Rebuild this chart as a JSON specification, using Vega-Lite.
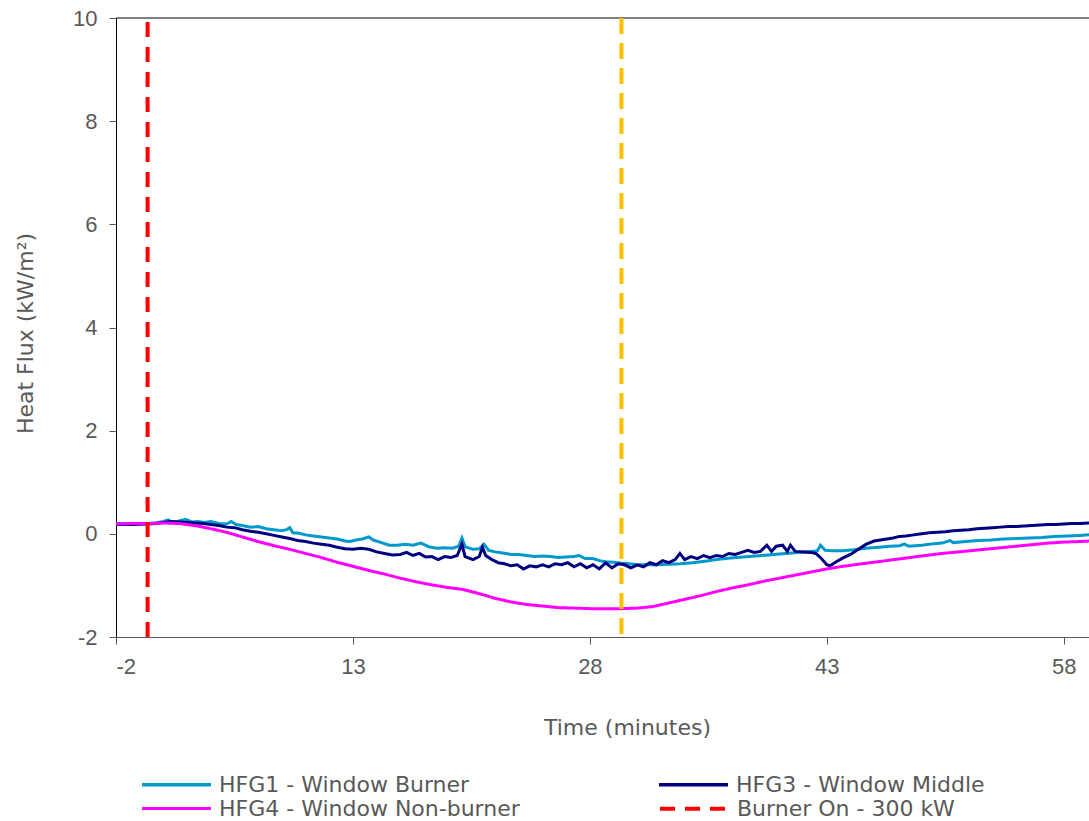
{
  "$schema": "https://vega.github.io/schema/vega-lite/v6.json",
  "autosize": {"type": "none"},
  "width": 973,
  "height": 619,
  "padding": {"left": 116, "top": 18, "right": 0, "bottom": 184},
  "background": "white",
  "config": {
    "view": {"stroke": null},
    "axis": {
      "grid": false,
      "labelFont": "Liberation Sans",
      "labelFontSize": 22,
      "labelColor": "#595959",
      "labelExpr": "replace(datum.label, '\u2212', '-')",
      "titleFont": "DejaVu Sans",
      "titleFontSize": 22,
      "titleFontWeight": "normal",
      "titleColor": "#595959",
      "tickColor": "#595959",
      "tickSize": 7,
      "labelPadding": 12,
      "domainColor": "#000000"
    },
    "legend": {
      "orient": "none",
      "columns": 2,
      "symbolType": "stroke",
      "symbolSize": 4761,
      "symbolStrokeWidth": 3.5,
      "labelFont": "DejaVu Sans",
      "labelFontSize": 22,
      "labelColor": "#595959",
      "labelOffset": 6,
      "labelLimit": 500
    }
  },
  "layer": [
    {
      "data": {"values": [{"y": 10}]},
      "mark": {"type": "rule", "color": "#000000", "strokeWidth": 1},
      "encoding": {"y": {"field": "y", "type": "quantitative"}}
    },
    {
      "data": {
        "values": [
          {"t": -2, "v": 0.19, "s": "HFG1 - Window Burner"},
          {"t": -1.5, "v": 0.2, "s": "HFG1 - Window Burner"},
          {"t": -1, "v": 0.19, "s": "HFG1 - Window Burner"},
          {"t": -0.5, "v": 0.2, "s": "HFG1 - Window Burner"},
          {"t": 0, "v": 0.2, "s": "HFG1 - Window Burner"},
          {"t": 0.5, "v": 0.21, "s": "HFG1 - Window Burner"},
          {"t": 1, "v": 0.24, "s": "HFG1 - Window Burner"},
          {"t": 1.3, "v": 0.27, "s": "HFG1 - Window Burner"},
          {"t": 1.6, "v": 0.22, "s": "HFG1 - Window Burner"},
          {"t": 2, "v": 0.25, "s": "HFG1 - Window Burner"},
          {"t": 2.4, "v": 0.28, "s": "HFG1 - Window Burner"},
          {"t": 2.8, "v": 0.23, "s": "HFG1 - Window Burner"},
          {"t": 3.2, "v": 0.24, "s": "HFG1 - Window Burner"},
          {"t": 3.6, "v": 0.22, "s": "HFG1 - Window Burner"},
          {"t": 4, "v": 0.24, "s": "HFG1 - Window Burner"},
          {"t": 4.5, "v": 0.2, "s": "HFG1 - Window Burner"},
          {"t": 5, "v": 0.19, "s": "HFG1 - Window Burner"},
          {"t": 5.3, "v": 0.24, "s": "HFG1 - Window Burner"},
          {"t": 5.6, "v": 0.18, "s": "HFG1 - Window Burner"},
          {"t": 6, "v": 0.16, "s": "HFG1 - Window Burner"},
          {"t": 6.5, "v": 0.13, "s": "HFG1 - Window Burner"},
          {"t": 7, "v": 0.14, "s": "HFG1 - Window Burner"},
          {"t": 7.5, "v": 0.1, "s": "HFG1 - Window Burner"},
          {"t": 8, "v": 0.08, "s": "HFG1 - Window Burner"},
          {"t": 8.5, "v": 0.06, "s": "HFG1 - Window Burner"},
          {"t": 8.8, "v": 0.08, "s": "HFG1 - Window Burner"},
          {"t": 9, "v": 0.12, "s": "HFG1 - Window Burner"},
          {"t": 9.2, "v": 0.02, "s": "HFG1 - Window Burner"},
          {"t": 9.6, "v": 0.01, "s": "HFG1 - Window Burner"},
          {"t": 10, "v": -0.02, "s": "HFG1 - Window Burner"},
          {"t": 10.5, "v": -0.04, "s": "HFG1 - Window Burner"},
          {"t": 11, "v": -0.06, "s": "HFG1 - Window Burner"},
          {"t": 11.5, "v": -0.08, "s": "HFG1 - Window Burner"},
          {"t": 12, "v": -0.1, "s": "HFG1 - Window Burner"},
          {"t": 12.5, "v": -0.14, "s": "HFG1 - Window Burner"},
          {"t": 12.8, "v": -0.15, "s": "HFG1 - Window Burner"},
          {"t": 13.2, "v": -0.12, "s": "HFG1 - Window Burner"},
          {"t": 13.6, "v": -0.1, "s": "HFG1 - Window Burner"},
          {"t": 14, "v": -0.06, "s": "HFG1 - Window Burner"},
          {"t": 14.3, "v": -0.12, "s": "HFG1 - Window Burner"},
          {"t": 14.8, "v": -0.17, "s": "HFG1 - Window Burner"},
          {"t": 15.3, "v": -0.22, "s": "HFG1 - Window Burner"},
          {"t": 15.8, "v": -0.22, "s": "HFG1 - Window Burner"},
          {"t": 16.3, "v": -0.2, "s": "HFG1 - Window Burner"},
          {"t": 16.8, "v": -0.22, "s": "HFG1 - Window Burner"},
          {"t": 17.3, "v": -0.18, "s": "HFG1 - Window Burner"},
          {"t": 17.8, "v": -0.25, "s": "HFG1 - Window Burner"},
          {"t": 18.3, "v": -0.28, "s": "HFG1 - Window Burner"},
          {"t": 18.8, "v": -0.27, "s": "HFG1 - Window Burner"},
          {"t": 19.3, "v": -0.28, "s": "HFG1 - Window Burner"},
          {"t": 19.7, "v": -0.24, "s": "HFG1 - Window Burner"},
          {"t": 19.9, "v": -0.08, "s": "HFG1 - Window Burner"},
          {"t": 20.1, "v": -0.25, "s": "HFG1 - Window Burner"},
          {"t": 20.6, "v": -0.3, "s": "HFG1 - Window Burner"},
          {"t": 21, "v": -0.29, "s": "HFG1 - Window Burner"},
          {"t": 21.3, "v": -0.2, "s": "HFG1 - Window Burner"},
          {"t": 21.6, "v": -0.32, "s": "HFG1 - Window Burner"},
          {"t": 22, "v": -0.35, "s": "HFG1 - Window Burner"},
          {"t": 22.5, "v": -0.37, "s": "HFG1 - Window Burner"},
          {"t": 23, "v": -0.4, "s": "HFG1 - Window Burner"},
          {"t": 23.5, "v": -0.4, "s": "HFG1 - Window Burner"},
          {"t": 24, "v": -0.42, "s": "HFG1 - Window Burner"},
          {"t": 24.5, "v": -0.44, "s": "HFG1 - Window Burner"},
          {"t": 25, "v": -0.43, "s": "HFG1 - Window Burner"},
          {"t": 25.5, "v": -0.44, "s": "HFG1 - Window Burner"},
          {"t": 26, "v": -0.46, "s": "HFG1 - Window Burner"},
          {"t": 26.5, "v": -0.45, "s": "HFG1 - Window Burner"},
          {"t": 27, "v": -0.44, "s": "HFG1 - Window Burner"},
          {"t": 27.3, "v": -0.42, "s": "HFG1 - Window Burner"},
          {"t": 27.7, "v": -0.48, "s": "HFG1 - Window Burner"},
          {"t": 28.2, "v": -0.48, "s": "HFG1 - Window Burner"},
          {"t": 28.6, "v": -0.52, "s": "HFG1 - Window Burner"},
          {"t": 29, "v": -0.54, "s": "HFG1 - Window Burner"},
          {"t": 29.5, "v": -0.55, "s": "HFG1 - Window Burner"},
          {"t": 30, "v": -0.57, "s": "HFG1 - Window Burner"},
          {"t": 30.5, "v": -0.58, "s": "HFG1 - Window Burner"},
          {"t": 31, "v": -0.6, "s": "HFG1 - Window Burner"},
          {"t": 31.6, "v": -0.6, "s": "HFG1 - Window Burner"},
          {"t": 32.3, "v": -0.6, "s": "HFG1 - Window Burner"},
          {"t": 33, "v": -0.59, "s": "HFG1 - Window Burner"},
          {"t": 33.7, "v": -0.58, "s": "HFG1 - Window Burner"},
          {"t": 34.5, "v": -0.56, "s": "HFG1 - Window Burner"},
          {"t": 35.3, "v": -0.53, "s": "HFG1 - Window Burner"},
          {"t": 36, "v": -0.5, "s": "HFG1 - Window Burner"},
          {"t": 36.9, "v": -0.47, "s": "HFG1 - Window Burner"},
          {"t": 37.7, "v": -0.45, "s": "HFG1 - Window Burner"},
          {"t": 38.5, "v": -0.43, "s": "HFG1 - Window Burner"},
          {"t": 39.3, "v": -0.41, "s": "HFG1 - Window Burner"},
          {"t": 40, "v": -0.39, "s": "HFG1 - Window Burner"},
          {"t": 40.8, "v": -0.37, "s": "HFG1 - Window Burner"},
          {"t": 41.5, "v": -0.35, "s": "HFG1 - Window Burner"},
          {"t": 42.1, "v": -0.34, "s": "HFG1 - Window Burner"},
          {"t": 42.4, "v": -0.33, "s": "HFG1 - Window Burner"},
          {"t": 42.6, "v": -0.22, "s": "HFG1 - Window Burner"},
          {"t": 42.9, "v": -0.32, "s": "HFG1 - Window Burner"},
          {"t": 43.3, "v": -0.33, "s": "HFG1 - Window Burner"},
          {"t": 44, "v": -0.33, "s": "HFG1 - Window Burner"},
          {"t": 44.7, "v": -0.31, "s": "HFG1 - Window Burner"},
          {"t": 45.5, "v": -0.28, "s": "HFG1 - Window Burner"},
          {"t": 46.3, "v": -0.26, "s": "HFG1 - Window Burner"},
          {"t": 47, "v": -0.24, "s": "HFG1 - Window Burner"},
          {"t": 47.6, "v": -0.23, "s": "HFG1 - Window Burner"},
          {"t": 47.9, "v": -0.2, "s": "HFG1 - Window Burner"},
          {"t": 48.2, "v": -0.24, "s": "HFG1 - Window Burner"},
          {"t": 49, "v": -0.22, "s": "HFG1 - Window Burner"},
          {"t": 49.8, "v": -0.19, "s": "HFG1 - Window Burner"},
          {"t": 50.3, "v": -0.18, "s": "HFG1 - Window Burner"},
          {"t": 50.8, "v": -0.13, "s": "HFG1 - Window Burner"},
          {"t": 51, "v": -0.17, "s": "HFG1 - Window Burner"},
          {"t": 51.8, "v": -0.15, "s": "HFG1 - Window Burner"},
          {"t": 52.6, "v": -0.13, "s": "HFG1 - Window Burner"},
          {"t": 53.4, "v": -0.12, "s": "HFG1 - Window Burner"},
          {"t": 54.2, "v": -0.1, "s": "HFG1 - Window Burner"},
          {"t": 55, "v": -0.09, "s": "HFG1 - Window Burner"},
          {"t": 55.8, "v": -0.08, "s": "HFG1 - Window Burner"},
          {"t": 56.6, "v": -0.07, "s": "HFG1 - Window Burner"},
          {"t": 57.4, "v": -0.05, "s": "HFG1 - Window Burner"},
          {"t": 58.2, "v": -0.04, "s": "HFG1 - Window Burner"},
          {"t": 59, "v": -0.03, "s": "HFG1 - Window Burner"},
          {"t": 59.6, "v": -0.02, "s": "HFG1 - Window Burner"},

          {"t": -2, "v": 0.18, "s": "HFG3 - Window Middle"},
          {"t": -1, "v": 0.18, "s": "HFG3 - Window Middle"},
          {"t": 0, "v": 0.19, "s": "HFG3 - Window Middle"},
          {"t": 0.5, "v": 0.2, "s": "HFG3 - Window Middle"},
          {"t": 1, "v": 0.22, "s": "HFG3 - Window Middle"},
          {"t": 1.5, "v": 0.24, "s": "HFG3 - Window Middle"},
          {"t": 2, "v": 0.23, "s": "HFG3 - Window Middle"},
          {"t": 2.5, "v": 0.22, "s": "HFG3 - Window Middle"},
          {"t": 3, "v": 0.21, "s": "HFG3 - Window Middle"},
          {"t": 3.5, "v": 0.2, "s": "HFG3 - Window Middle"},
          {"t": 4, "v": 0.18, "s": "HFG3 - Window Middle"},
          {"t": 4.5, "v": 0.16, "s": "HFG3 - Window Middle"},
          {"t": 5, "v": 0.13, "s": "HFG3 - Window Middle"},
          {"t": 5.5, "v": 0.12, "s": "HFG3 - Window Middle"},
          {"t": 6, "v": 0.08, "s": "HFG3 - Window Middle"},
          {"t": 6.5, "v": 0.05, "s": "HFG3 - Window Middle"},
          {"t": 7, "v": 0.03, "s": "HFG3 - Window Middle"},
          {"t": 7.5, "v": 0.0, "s": "HFG3 - Window Middle"},
          {"t": 8, "v": -0.03, "s": "HFG3 - Window Middle"},
          {"t": 8.5, "v": -0.06, "s": "HFG3 - Window Middle"},
          {"t": 9, "v": -0.09, "s": "HFG3 - Window Middle"},
          {"t": 9.5, "v": -0.13, "s": "HFG3 - Window Middle"},
          {"t": 10, "v": -0.15, "s": "HFG3 - Window Middle"},
          {"t": 10.5, "v": -0.18, "s": "HFG3 - Window Middle"},
          {"t": 11, "v": -0.2, "s": "HFG3 - Window Middle"},
          {"t": 11.5, "v": -0.22, "s": "HFG3 - Window Middle"},
          {"t": 12, "v": -0.26, "s": "HFG3 - Window Middle"},
          {"t": 12.5, "v": -0.29, "s": "HFG3 - Window Middle"},
          {"t": 13, "v": -0.3, "s": "HFG3 - Window Middle"},
          {"t": 13.5, "v": -0.28, "s": "HFG3 - Window Middle"},
          {"t": 14, "v": -0.3, "s": "HFG3 - Window Middle"},
          {"t": 14.5, "v": -0.35, "s": "HFG3 - Window Middle"},
          {"t": 15, "v": -0.38, "s": "HFG3 - Window Middle"},
          {"t": 15.5, "v": -0.41, "s": "HFG3 - Window Middle"},
          {"t": 16, "v": -0.4, "s": "HFG3 - Window Middle"},
          {"t": 16.4, "v": -0.36, "s": "HFG3 - Window Middle"},
          {"t": 16.8, "v": -0.42, "s": "HFG3 - Window Middle"},
          {"t": 17.2, "v": -0.38, "s": "HFG3 - Window Middle"},
          {"t": 17.6, "v": -0.45, "s": "HFG3 - Window Middle"},
          {"t": 18, "v": -0.44, "s": "HFG3 - Window Middle"},
          {"t": 18.4, "v": -0.5, "s": "HFG3 - Window Middle"},
          {"t": 18.8, "v": -0.44, "s": "HFG3 - Window Middle"},
          {"t": 19.2, "v": -0.46, "s": "HFG3 - Window Middle"},
          {"t": 19.6, "v": -0.42, "s": "HFG3 - Window Middle"},
          {"t": 19.9, "v": -0.2, "s": "HFG3 - Window Middle"},
          {"t": 20.1, "v": -0.44, "s": "HFG3 - Window Middle"},
          {"t": 20.6, "v": -0.5, "s": "HFG3 - Window Middle"},
          {"t": 21, "v": -0.44, "s": "HFG3 - Window Middle"},
          {"t": 21.2, "v": -0.26, "s": "HFG3 - Window Middle"},
          {"t": 21.4, "v": -0.42, "s": "HFG3 - Window Middle"},
          {"t": 21.8, "v": -0.5, "s": "HFG3 - Window Middle"},
          {"t": 22.2, "v": -0.56, "s": "HFG3 - Window Middle"},
          {"t": 22.6, "v": -0.58, "s": "HFG3 - Window Middle"},
          {"t": 23, "v": -0.62, "s": "HFG3 - Window Middle"},
          {"t": 23.4, "v": -0.6, "s": "HFG3 - Window Middle"},
          {"t": 23.8, "v": -0.68, "s": "HFG3 - Window Middle"},
          {"t": 24.2, "v": -0.62, "s": "HFG3 - Window Middle"},
          {"t": 24.6, "v": -0.64, "s": "HFG3 - Window Middle"},
          {"t": 25, "v": -0.6, "s": "HFG3 - Window Middle"},
          {"t": 25.4, "v": -0.64, "s": "HFG3 - Window Middle"},
          {"t": 25.8, "v": -0.58, "s": "HFG3 - Window Middle"},
          {"t": 26.2, "v": -0.6, "s": "HFG3 - Window Middle"},
          {"t": 26.6, "v": -0.56, "s": "HFG3 - Window Middle"},
          {"t": 27, "v": -0.64, "s": "HFG3 - Window Middle"},
          {"t": 27.4, "v": -0.58, "s": "HFG3 - Window Middle"},
          {"t": 27.8, "v": -0.66, "s": "HFG3 - Window Middle"},
          {"t": 28.2, "v": -0.6, "s": "HFG3 - Window Middle"},
          {"t": 28.6, "v": -0.68, "s": "HFG3 - Window Middle"},
          {"t": 29, "v": -0.56, "s": "HFG3 - Window Middle"},
          {"t": 29.4, "v": -0.66, "s": "HFG3 - Window Middle"},
          {"t": 29.8, "v": -0.58, "s": "HFG3 - Window Middle"},
          {"t": 30.2, "v": -0.6, "s": "HFG3 - Window Middle"},
          {"t": 30.6, "v": -0.66, "s": "HFG3 - Window Middle"},
          {"t": 31, "v": -0.6, "s": "HFG3 - Window Middle"},
          {"t": 31.4, "v": -0.64, "s": "HFG3 - Window Middle"},
          {"t": 31.8, "v": -0.56, "s": "HFG3 - Window Middle"},
          {"t": 32.2, "v": -0.6, "s": "HFG3 - Window Middle"},
          {"t": 32.6, "v": -0.52, "s": "HFG3 - Window Middle"},
          {"t": 33, "v": -0.56, "s": "HFG3 - Window Middle"},
          {"t": 33.4, "v": -0.5, "s": "HFG3 - Window Middle"},
          {"t": 33.7, "v": -0.38, "s": "HFG3 - Window Middle"},
          {"t": 34, "v": -0.5, "s": "HFG3 - Window Middle"},
          {"t": 34.4, "v": -0.44, "s": "HFG3 - Window Middle"},
          {"t": 34.8, "v": -0.48, "s": "HFG3 - Window Middle"},
          {"t": 35.2, "v": -0.42, "s": "HFG3 - Window Middle"},
          {"t": 35.6, "v": -0.46, "s": "HFG3 - Window Middle"},
          {"t": 36, "v": -0.42, "s": "HFG3 - Window Middle"},
          {"t": 36.4, "v": -0.44, "s": "HFG3 - Window Middle"},
          {"t": 36.8, "v": -0.38, "s": "HFG3 - Window Middle"},
          {"t": 37.2, "v": -0.4, "s": "HFG3 - Window Middle"},
          {"t": 37.6, "v": -0.36, "s": "HFG3 - Window Middle"},
          {"t": 38, "v": -0.32, "s": "HFG3 - Window Middle"},
          {"t": 38.4, "v": -0.36, "s": "HFG3 - Window Middle"},
          {"t": 38.8, "v": -0.34, "s": "HFG3 - Window Middle"},
          {"t": 39.2, "v": -0.22, "s": "HFG3 - Window Middle"},
          {"t": 39.5, "v": -0.34, "s": "HFG3 - Window Middle"},
          {"t": 39.8, "v": -0.24, "s": "HFG3 - Window Middle"},
          {"t": 40.2, "v": -0.22, "s": "HFG3 - Window Middle"},
          {"t": 40.5, "v": -0.34, "s": "HFG3 - Window Middle"},
          {"t": 40.7, "v": -0.22, "s": "HFG3 - Window Middle"},
          {"t": 41, "v": -0.34, "s": "HFG3 - Window Middle"},
          {"t": 41.5, "v": -0.35, "s": "HFG3 - Window Middle"},
          {"t": 42, "v": -0.36, "s": "HFG3 - Window Middle"},
          {"t": 42.3, "v": -0.38, "s": "HFG3 - Window Middle"},
          {"t": 42.6, "v": -0.46, "s": "HFG3 - Window Middle"},
          {"t": 43, "v": -0.6, "s": "HFG3 - Window Middle"},
          {"t": 43.2, "v": -0.62, "s": "HFG3 - Window Middle"},
          {"t": 43.6, "v": -0.54, "s": "HFG3 - Window Middle"},
          {"t": 44, "v": -0.47, "s": "HFG3 - Window Middle"},
          {"t": 44.5, "v": -0.4, "s": "HFG3 - Window Middle"},
          {"t": 45, "v": -0.3, "s": "HFG3 - Window Middle"},
          {"t": 45.5, "v": -0.2, "s": "HFG3 - Window Middle"},
          {"t": 46, "v": -0.14, "s": "HFG3 - Window Middle"},
          {"t": 46.4, "v": -0.12, "s": "HFG3 - Window Middle"},
          {"t": 46.8, "v": -0.1, "s": "HFG3 - Window Middle"},
          {"t": 47.2, "v": -0.08, "s": "HFG3 - Window Middle"},
          {"t": 47.6, "v": -0.05, "s": "HFG3 - Window Middle"},
          {"t": 48, "v": -0.04, "s": "HFG3 - Window Middle"},
          {"t": 48.5, "v": -0.02, "s": "HFG3 - Window Middle"},
          {"t": 49, "v": 0.0, "s": "HFG3 - Window Middle"},
          {"t": 49.5, "v": 0.02, "s": "HFG3 - Window Middle"},
          {"t": 50, "v": 0.03, "s": "HFG3 - Window Middle"},
          {"t": 50.5, "v": 0.04, "s": "HFG3 - Window Middle"},
          {"t": 51, "v": 0.06, "s": "HFG3 - Window Middle"},
          {"t": 51.5, "v": 0.07, "s": "HFG3 - Window Middle"},
          {"t": 52, "v": 0.08, "s": "HFG3 - Window Middle"},
          {"t": 52.5, "v": 0.1, "s": "HFG3 - Window Middle"},
          {"t": 53, "v": 0.11, "s": "HFG3 - Window Middle"},
          {"t": 53.5, "v": 0.12, "s": "HFG3 - Window Middle"},
          {"t": 54, "v": 0.13, "s": "HFG3 - Window Middle"},
          {"t": 54.5, "v": 0.14, "s": "HFG3 - Window Middle"},
          {"t": 55, "v": 0.14, "s": "HFG3 - Window Middle"},
          {"t": 55.5, "v": 0.15, "s": "HFG3 - Window Middle"},
          {"t": 56, "v": 0.16, "s": "HFG3 - Window Middle"},
          {"t": 56.5, "v": 0.17, "s": "HFG3 - Window Middle"},
          {"t": 57, "v": 0.18, "s": "HFG3 - Window Middle"},
          {"t": 57.5, "v": 0.18, "s": "HFG3 - Window Middle"},
          {"t": 58, "v": 0.19, "s": "HFG3 - Window Middle"},
          {"t": 58.5, "v": 0.2, "s": "HFG3 - Window Middle"},
          {"t": 59, "v": 0.2, "s": "HFG3 - Window Middle"},
          {"t": 59.6, "v": 0.21, "s": "HFG3 - Window Middle"}
        ]
      },
      "mark": {"type": "line", "strokeWidth": 3, "clip": true},
      "encoding": {
        "x": {
          "field": "t", "type": "quantitative",
          "scale": {"domain": [-2, 59.6], "nice": false, "zero": false},
          "axis": {"values": [-2, 13, 28, 43, 58], "title": "Time (minutes)", "titlePadding": 40, "titleX": 511, "domainColor": "#595959"}
        },
        "y": {
          "field": "v", "type": "quantitative",
          "scale": {"domain": [-2, 10], "nice": false, "zero": false},
          "axis": {"values": [-2, 0, 2, 4, 6, 8, 10], "title": "Heat Flux (kW/m²)", "titlePadding": 35, "titleY": 315}
        },
        "stroke": {
          "field": "s", "type": "nominal",
          "scale": {
            "domain": ["HFG1 - Window Burner", "HFG3 - Window Middle"],
            "range": ["#0099CC", "#000080"]
          },
          "legend": {"title": null, "orient": "none", "legendX": 24, "legendY": 730, "columns": 2, "columnPadding": 182}
        }
      }
    },
    {
      "data": {
        "values": [
          {"t": -2, "v": 0.19, "s": "HFG4 - Window Non-burner"},
          {"t": -1, "v": 0.2, "s": "HFG4 - Window Non-burner"},
          {"t": 0, "v": 0.2, "s": "HFG4 - Window Non-burner"},
          {"t": 1, "v": 0.21, "s": "HFG4 - Window Non-burner"},
          {"t": 2, "v": 0.2, "s": "HFG4 - Window Non-burner"},
          {"t": 3, "v": 0.16, "s": "HFG4 - Window Non-burner"},
          {"t": 4, "v": 0.1, "s": "HFG4 - Window Non-burner"},
          {"t": 5, "v": 0.03, "s": "HFG4 - Window Non-burner"},
          {"t": 6, "v": -0.06, "s": "HFG4 - Window Non-burner"},
          {"t": 7, "v": -0.15, "s": "HFG4 - Window Non-burner"},
          {"t": 8, "v": -0.23, "s": "HFG4 - Window Non-burner"},
          {"t": 9, "v": -0.3, "s": "HFG4 - Window Non-burner"},
          {"t": 10, "v": -0.38, "s": "HFG4 - Window Non-burner"},
          {"t": 11, "v": -0.46, "s": "HFG4 - Window Non-burner"},
          {"t": 12, "v": -0.55, "s": "HFG4 - Window Non-burner"},
          {"t": 13, "v": -0.63, "s": "HFG4 - Window Non-burner"},
          {"t": 14, "v": -0.71, "s": "HFG4 - Window Non-burner"},
          {"t": 15, "v": -0.78, "s": "HFG4 - Window Non-burner"},
          {"t": 16, "v": -0.86, "s": "HFG4 - Window Non-burner"},
          {"t": 17, "v": -0.93, "s": "HFG4 - Window Non-burner"},
          {"t": 18, "v": -0.99, "s": "HFG4 - Window Non-burner"},
          {"t": 19, "v": -1.04, "s": "HFG4 - Window Non-burner"},
          {"t": 20, "v": -1.08, "s": "HFG4 - Window Non-burner"},
          {"t": 21, "v": -1.16, "s": "HFG4 - Window Non-burner"},
          {"t": 22, "v": -1.25, "s": "HFG4 - Window Non-burner"},
          {"t": 23, "v": -1.32, "s": "HFG4 - Window Non-burner"},
          {"t": 24, "v": -1.37, "s": "HFG4 - Window Non-burner"},
          {"t": 25, "v": -1.4, "s": "HFG4 - Window Non-burner"},
          {"t": 26, "v": -1.43, "s": "HFG4 - Window Non-burner"},
          {"t": 27, "v": -1.44, "s": "HFG4 - Window Non-burner"},
          {"t": 28, "v": -1.45, "s": "HFG4 - Window Non-burner"},
          {"t": 29, "v": -1.45, "s": "HFG4 - Window Non-burner"},
          {"t": 30, "v": -1.45, "s": "HFG4 - Window Non-burner"},
          {"t": 31, "v": -1.44, "s": "HFG4 - Window Non-burner"},
          {"t": 32, "v": -1.41, "s": "HFG4 - Window Non-burner"},
          {"t": 33, "v": -1.34, "s": "HFG4 - Window Non-burner"},
          {"t": 34, "v": -1.27, "s": "HFG4 - Window Non-burner"},
          {"t": 35, "v": -1.2, "s": "HFG4 - Window Non-burner"},
          {"t": 36, "v": -1.12, "s": "HFG4 - Window Non-burner"},
          {"t": 37, "v": -1.05, "s": "HFG4 - Window Non-burner"},
          {"t": 38, "v": -0.99, "s": "HFG4 - Window Non-burner"},
          {"t": 39, "v": -0.92, "s": "HFG4 - Window Non-burner"},
          {"t": 40, "v": -0.86, "s": "HFG4 - Window Non-burner"},
          {"t": 41, "v": -0.8, "s": "HFG4 - Window Non-burner"},
          {"t": 42, "v": -0.74, "s": "HFG4 - Window Non-burner"},
          {"t": 43, "v": -0.68, "s": "HFG4 - Window Non-burner"},
          {"t": 44, "v": -0.63, "s": "HFG4 - Window Non-burner"},
          {"t": 45, "v": -0.59, "s": "HFG4 - Window Non-burner"},
          {"t": 46, "v": -0.55, "s": "HFG4 - Window Non-burner"},
          {"t": 47, "v": -0.51, "s": "HFG4 - Window Non-burner"},
          {"t": 48, "v": -0.47, "s": "HFG4 - Window Non-burner"},
          {"t": 49, "v": -0.43, "s": "HFG4 - Window Non-burner"},
          {"t": 50, "v": -0.39, "s": "HFG4 - Window Non-burner"},
          {"t": 51, "v": -0.36, "s": "HFG4 - Window Non-burner"},
          {"t": 52, "v": -0.33, "s": "HFG4 - Window Non-burner"},
          {"t": 53, "v": -0.3, "s": "HFG4 - Window Non-burner"},
          {"t": 54, "v": -0.27, "s": "HFG4 - Window Non-burner"},
          {"t": 55, "v": -0.24, "s": "HFG4 - Window Non-burner"},
          {"t": 56, "v": -0.21, "s": "HFG4 - Window Non-burner"},
          {"t": 57, "v": -0.18, "s": "HFG4 - Window Non-burner"},
          {"t": 58, "v": -0.16, "s": "HFG4 - Window Non-burner"},
          {"t": 59, "v": -0.15, "s": "HFG4 - Window Non-burner"},
          {"t": 59.6, "v": -0.14, "s": "HFG4 - Window Non-burner"},
          {"t": 0, "v": -2, "s": "Burner On - 300 kW"},
          {"t": 0, "v": 10, "s": "Burner On - 300 kW"}
        ]
      },
      "mark": {"type": "line", "clip": true},
      "encoding": {
        "x": {"field": "t", "type": "quantitative"},
        "y": {"field": "v", "type": "quantitative"},
        "color": {
          "field": "s", "type": "nominal",
          "scale": {
            "domain": ["HFG4 - Window Non-burner", "Burner On - 300 kW"],
            "range": ["#FF00FF", "#FF0000"]
          },
          "legend": {"title": null, "orient": "none", "legendX": 24, "legendY": 754, "columns": 2, "columnPadding": 132}
        },
        "strokeDash": {
          "field": "s", "type": "nominal",
          "scale": {
            "domain": ["HFG4 - Window Non-burner", "Burner On - 300 kW"],
            "range": [[1, 0], [15, 10]]
          },
          "legend": {"title": null, "orient": "none", "legendX": 24, "legendY": 754, "columns": 2, "columnPadding": 132}
        },
        "strokeWidth": {
          "field": "s", "type": "nominal",
          "scale": {
            "domain": ["HFG4 - Window Non-burner", "Burner On - 300 kW"],
            "range": [3, 4]
          },
          "legend": null
        }
      }
    },
    {
      "data": {"values": [{"t": 30}]},
      "mark": {"type": "rule", "color": "#FFC000", "strokeWidth": 4, "strokeDash": [16, 9]},
      "encoding": {"x": {"field": "t", "type": "quantitative"}}
    }
  ]
}
